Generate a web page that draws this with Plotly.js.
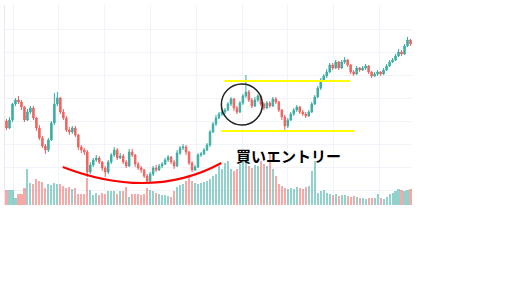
<!DOCTYPE html>
<html><head><meta charset="utf-8">
<script src="https://cdn.plot.ly/plotly-3.0.1.min.js"></script>
<style>html,body{margin:0;padding:0;background:#fff;}#chart{width:512px;height:288px;}</style>
</head><body><div id="chart"></div>
<script>
const openPrices = [84,77,85,101,105,103,98,85,93,97,87,77,67,59,55,65,82,101,107,93,87,75,73,77,70,58,55,53,33,40,45,47,43,37,33,43,50,55,47,49,43,39,53,50,41,37,35,29,24,31,37,35,39,41,45,48,43,39,52,57,58,53,42,35,38,50,51,55,60,73,81,87,91,93,95,101,106,97,93,102,109,113,105,99,105,109,101,97,102,99,106,103,95,88,79,85,91,95,98,93,91,89,93,101,108,117,125,129,133,140,137,143,137,143,145,140,133,131,137,135,137,139,133,129,131,133,131,135,139,143,145,149,153,151,159,165];
const closePrices = [77,85,101,105,103,98,85,93,97,87,77,67,59,55,65,82,101,107,93,87,75,73,77,70,58,55,53,33,40,45,47,43,37,33,43,50,55,47,49,43,39,53,50,41,37,35,29,24,31,37,35,39,41,45,48,43,39,52,57,58,53,42,35,38,50,51,55,60,73,81,87,91,93,95,101,106,97,93,102,109,113,105,99,105,109,101,97,102,99,106,103,95,88,79,85,91,95,98,93,91,89,93,101,108,117,125,129,133,140,137,143,137,143,145,140,133,131,137,135,137,139,133,129,131,133,131,135,139,143,145,149,153,151,159,165,161];
const highPrices = [86,88,102,107,109,105,99,96,99,99,88,80,69,61,67,84,112,113,108,96,89,78,79,79,71,60,57,55,43,47,50,49,44,39,45,52,58,57,52,51,45,56,56,51,43,39,36,31,33,39,40,41,43,47,50,49,45,55,59,61,60,54,44,40,52,53,57,62,75,83,90,93,96,97,103,108,107,99,104,111,130,115,107,108,111,110,103,104,104,108,108,104,96,90,87,93,97,100,99,95,93,95,103,110,119,127,131,136,142,142,145,144,145,148,146,141,135,139,138,139,141,140,134,133,135,134,137,141,145,147,151,156,155,161,168,166];
const lowPrices = [75,76,83,99,101,95,83,84,91,85,74,65,57,51,53,64,80,99,91,85,73,70,71,68,55,52,50,28,31,38,43,41,34,28,31,41,48,45,46,41,37,38,48,38,35,32,27,22,23,29,33,34,37,40,43,41,36,38,50,55,50,40,33,34,37,48,50,54,58,72,79,86,89,91,94,99,94,91,92,100,107,103,97,98,103,99,95,96,97,98,101,93,85,73,77,84,89,93,91,89,87,88,92,100,107,115,124,127,132,135,136,135,136,141,138,131,129,130,133,134,135,131,127,128,129,129,130,134,138,142,144,148,149,150,158,159];
const volumes = [15,15,15,7,11,11,17,36,22,21,26,24,23,17,21,20,22,21,21,19,17,18,16,17,11,11,11,27,15,10,12,10,12,11,14,14,14,11,14,14,18,8,11,11,11,10,11,17,15,14,12,11,10,10,9,8,14,18,20,21,24,30,24,22,21,22,23,24,26,29,31,39,36,42,44,36,34,36,41,46,49,39,37,40,39,44,41,39,51,36,29,21,19,17,16,17,16,18,17,16,18,19,34,44,12,14,15,12,11,10,11,9,10,10,9,8,9,8,7,7,6,7,7,7,11,7,6,8,11,12,14,16,15,14,15,16];
const entryLabel = '買いエントリー';

const idx = closePrices.map((_, i) => i);
const volColors = closePrices.map((c, i) => c >= openPrices[i] ? 'rgba(38,166,154,0.5)' : 'rgba(239,83,80,0.5)');

const traces = [
  {type:'bar', x: idx, y: volumes, marker:{color: volColors, line:{width:0}}, width:0.7, xaxis:'x', yaxis:'y', hoverinfo:'skip'},
  {type:'candlestick', x: idx, open: openPrices, high: highPrices, low: lowPrices, close: closePrices,
   xaxis:'x', yaxis:'y2', opacity:0.9,
   increasing:{line:{color:'#26a69a', width:1}, fillcolor:'#26a69a'},
   decreasing:{line:{color:'#ef5350', width:1}, fillcolor:'#ef5350'},
   whiskerwidth:0}
];

const layout = {
  width:512, height:288,
  margin:{l:5, r:100, t:5, b:83, pad:0},
  paper_bgcolor:'#ffffff', plot_bgcolor:'#ffffff',
  showlegend:false,
  bargap:0,
  xaxis:{range:[-0.5,135.5], showticklabels:false, ticks:'', tickmode:'linear', tick0:2.2, dtick:15.3,
         showgrid:true, gridcolor:'#f0f3fa', gridwidth:1, zeroline:false, showline:false, rangeslider:{visible:false}},
  yaxis:{range:[0,200], showticklabels:false, ticks:'', tickmode:'linear', tick0:15, dtick:23,
         showgrid:true, gridcolor:'#f0f3fa', gridwidth:1, zeroline:false, showline:true, linecolor:'#e6e9f2', linewidth:1},
  yaxis2:{range:[0,200], overlaying:'y', showticklabels:false, ticks:'', showgrid:false, zeroline:false, showline:false},
  shapes:[
    {type:'path', xref:'x', yref:'y2', path:'M18.8,38 Q48.3,4 71.8,42', line:{color:'#ff0000', width:2}},
    {type:'line', xref:'x', yref:'y2', x0:72.8, x1:114.8, y0:124, y1:124, line:{color:'#ffff00', width:2}},
    {type:'line', xref:'x', yref:'y2', x0:71.8, x1:116.2, y0:74, y1:74, line:{color:'#ffff00', width:2}},
    {type:'circle', xref:'x', yref:'y2', x0:71.8, x1:85.5, y0:80, y1:121, line:{color:'#222222', width:1.5}}
  ],
  annotations:[
    {xref:'x', yref:'y2', x:94.2, y:50, text:'<b>'+entryLabel+'</b>', showarrow:false,
     font:{family:'Noto Sans CJK JP', size:15, color:'#000000'}}
  ]
};
Plotly.newPlot('chart', traces, layout, {displayModeBar:false, staticPlot:true});
</script></body></html>
